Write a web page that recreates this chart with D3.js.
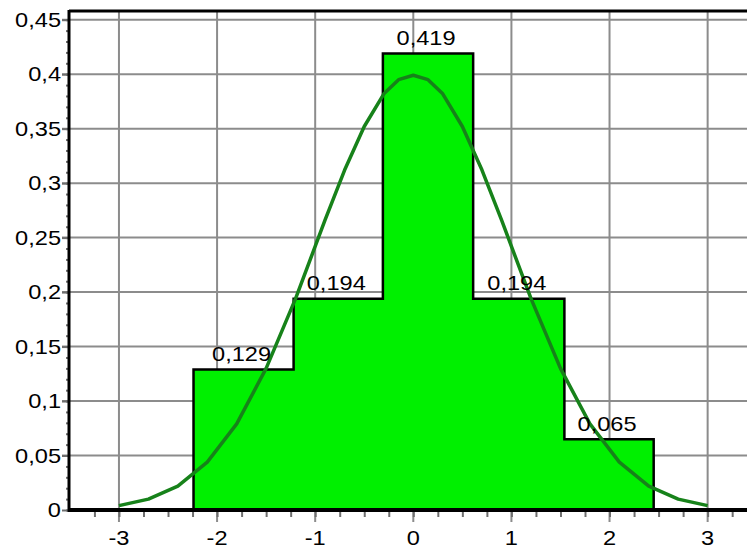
<!DOCTYPE html>
<html>
<head>
<meta charset="utf-8">
<script src="https://cdn.jsdelivr.net/npm/d3@7"></script>
<style>
body { margin: 0; background: #fff; }
svg { display: block; }
text { font-family: "Liberation Sans", Arial, sans-serif; font-size: 20px; fill: #000; }
</style>
</head>
<body>
<svg id="svg" width="747" height="552"></svg>
<script>
// histogram bins (edges) and relative frequencies
var binEdges = [-2.24, -1.22, -0.31, 0.61, 1.54, 2.45];
var binValues = [0.129, 0.194, 0.419, 0.194, 0.065];

// density curve, points
var curveX = [-3, -2.7, -2.4, -2.1, -1.8, -1.5, -1.2, -0.9, -0.7, -0.5, -0.3, -0.15, 0,
              0.15, 0.3, 0.5, 0.7, 0.9, 1.2, 1.5, 1.8, 2.1, 2.4, 2.7, 3];
var curveY = [0.004, 0.010, 0.022, 0.044, 0.079, 0.130, 0.194, 0.266, 0.312, 0.352, 0.382, 0.395, 0.399,
              0.395, 0.382, 0.352, 0.312, 0.266, 0.194, 0.130, 0.079, 0.044, 0.022, 0.010, 0.004];

var xTicks = [-3, -2, -1, 0, 1, 2, 3];
var yTicks = [0, 0.05, 0.1, 0.15, 0.2, 0.25, 0.3, 0.35, 0.4, 0.45];

var locale = d3.formatLocale({decimal: ",", thousands: ".", grouping: [3], currency: ["", ""], minus: "-"});
var fmtY = locale.format(".2~f");
var fmtX = locale.format("d");
var fmtBar = locale.format(".3f");

var svg = d3.select("#svg");
var x = d3.scaleLinear().domain([-3.5, 3.5]).range([69.9, 756.7]);
var y = d3.scaleLinear().domain([0, 0.458]).range([510, 11]);
var stretch = 1.18;

//////// GRID ////////
svg.append("g").selectAll("line").data(yTicks.filter(function(d) { return d > 0; })).enter()
  .append("line")
    .attr("x1", 62).attr("x2", 760)
    .attr("y1", function(d) { return y(d); }).attr("y2", function(d) { return y(d); })
    .attr("stroke", "#8c8c8c").attr("stroke-width", 2);

svg.append("g").selectAll("line").data(xTicks).enter()
  .append("line")
    .attr("x1", function(d) { return x(d); }).attr("x2", function(d) { return x(d); })
    .attr("y1", 11).attr("y2", 522)
    .attr("stroke", "#8c8c8c").attr("stroke-width", 2);

//////// BARS (step outline) ////////
var steps = binEdges.map(function(e, i) {
  return {e: e, v: binValues[Math.min(i, binValues.length - 1)]};
});
var area = d3.area()
  .curve(d3.curveStepAfter)
  .x(function(d) { return x(d.e); })
  .y0(y(0))
  .y1(function(d) { return y(d.v); });

svg.append("path")
  .attr("d", area(steps))
  .attr("fill", "#00f000")
  .attr("stroke", "#000")
  .attr("stroke-width", 2.5);

//////// CURVE ////////
var line = d3.line()
  .x(function(d) { return x(d); })
  .y(function(d, i) { return y(curveY[i]); });

svg.append("path")
  .attr("d", line(curveX))
  .attr("fill", "none")
  .attr("stroke", "#17821a")
  .attr("stroke-width", 3.5)
  .attr("stroke-linejoin", "round");

//////// AXES ////////
// minor ticks
var yMinor = svg.append("g").attr("transform", "translate(69,0)")
  .call(d3.axisLeft(y).tickValues(d3.range(0, 0.451, 0.01)).tickSize(3).tickFormat(""));
var xMinor = svg.append("g").attr("transform", "translate(0,511)")
  .call(d3.axisBottom(x).tickValues(d3.range(-3.25, 3.3, 0.25)).tickSize(6).tickFormat(""));
// major ticks
var yMajor = svg.append("g").attr("transform", "translate(69,0)")
  .call(d3.axisLeft(y).tickValues(yTicks).tickSize(7).tickFormat(""));
[yMinor, xMinor, yMajor].forEach(function(g) {
  g.select(".domain").remove();
  g.selectAll(".tick line").attr("stroke", "#6e6e6e").attr("stroke-width", 2);
});

// frame lines
svg.append("line").attr("x1", 69).attr("x2", 760).attr("y1", 11).attr("y2", 11)
  .attr("stroke", "#000").attr("stroke-width", 3);
svg.append("line").attr("x1", 69).attr("x2", 69).attr("y1", 10).attr("y2", 512)
  .attr("stroke", "#000").attr("stroke-width", 3);
svg.append("line").attr("x1", 68).attr("x2", 760).attr("y1", 510).attr("y2", 510)
  .attr("stroke", "#000").attr("stroke-width", 4);

//////// TEXT ////////
svg.append("g").selectAll("text").data(yTicks).enter()
  .append("text")
    .attr("transform", function(d) { return "translate(61," + (y(d) + 7) + ") scale(" + stretch + ",1)"; })
    .attr("text-anchor", "end")
    .text(function(d) { return fmtY(d); });

svg.append("g").selectAll("text").data(xTicks).enter()
  .append("text")
    .attr("transform", function(d) { return "translate(" + x(d) + ",545) scale(" + stretch + ",1)"; })
    .attr("text-anchor", "middle")
    .text(function(d) { return fmtX(d); });

svg.append("g").selectAll("text").data(binValues).enter()
  .append("text")
    .attr("transform", function(d, i) {
      var cx = (x(binEdges[i]) + x(binEdges[i + 1])) / 2 - 2;
      return "translate(" + cx + "," + (y(d) - 8.5) + ") scale(" + stretch + ",1)";
    })
    .attr("text-anchor", "middle")
    .text(function(d) { return fmtBar(d); });
</script>
</body>
</html>
